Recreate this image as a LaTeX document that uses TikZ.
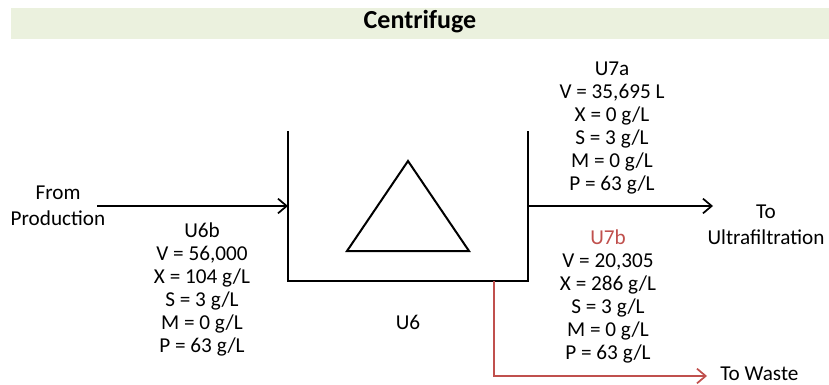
\documentclass[tikz,border=0pt]{standalone}
\usepackage{fontspec}
\setmainfont{Carlito}
\usetikzlibrary{arrows.meta}
\definecolor{hdr}{HTML}{EBF1DE}
\definecolor{wred}{HTML}{C0504D}
\tikzset{
  wall/.style={line width=1.5pt, line cap=rect},
  flow/.style={line width=1.5pt, -{Straight Barb[length=6.5pt,width=11pt,line width=1.3pt]}},
  datablk/.style={align=center, inner sep=0pt, font=\fontsize{15.9}{17.25}\selectfont},
  lbl/.style={align=center, inner sep=0pt, font=\fontsize{15.9}{19.5}\selectfont},
}
\begin{document}
\begin{tikzpicture}[x=0.75pt,y=-0.75pt]
\useasboundingbox (0,0) rectangle (829,385);
% header
\fill[hdr] (11,8) rectangle (829,39);
\node[inner sep=0pt, font=\fontsize{19.5}{22}\selectfont\bfseries] (title) at (420,22) {Centrifuge};
% vessel
\coordinate (tl) at (288,131);
\coordinate (bl) at (288,281);
\coordinate (br) at (528,281);
\coordinate (tr) at (528,131);
\draw[wall, line cap=butt] (tl) -- (bl) -- (br) -- (tr);
% triangle
\coordinate (apex) at (408,161);
\coordinate (tbl) at (347,251);
\coordinate (tbr) at (469,251);
\draw[line width=1.5pt, line join=miter] (apex) -- (tbl) -- (tbr) -- cycle;
% ports
\coordinate (inS) at (97,206);
\coordinate (inE) at (288,206);
\coordinate (outS) at (528,206);
\coordinate (outE) at (713,206);
\coordinate (wS) at (494,281);
\coordinate (wC) at (494,376);
\coordinate (wE) at (707,376);
\draw[flow] (inS) -- (inE);
\draw[flow] (outS) -- (outE);
\draw[flow, wred] (wS) -- (wC) -- (wE);
% labels
\node[lbl] (from) at (58,206) {From\\Production};
\node[lbl] (toUF) at (766,225) {To\\Ultrafiltration};
\node[lbl, anchor=west] (toW) at (720,374) {To Waste};
\node[lbl] (u6) at (408,322) {U6};
\node[datablk] (u6b) at (202,289) {U6b\\V = 56,000\\X = 104 g/L\\S = 3 g/L\\M = 0 g/L\\P = 63 g/L};
\node[datablk] (u7a) at (612,128.5) {U7a\\V = 35,695 L\\X = 0 g/L\\S = 3 g/L\\M = 0 g/L\\P = 63 g/L};
\node[datablk] (u7b) at (608,296) {\textcolor{wred}{U7b}\\V = 20,305\\X = 286 g/L\\S = 3 g/L\\M = 0 g/L\\P = 63 g/L};
\end{tikzpicture}
\end{document}
